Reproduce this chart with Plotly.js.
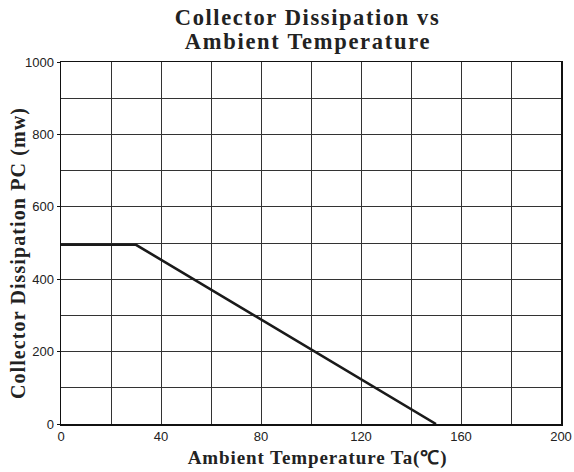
<!DOCTYPE html>
<html>
<head>
<meta charset="utf-8">
<script src="https://cdn.plot.ly/plotly-3.0.1.min.js"></script>
<style>html,body{margin:0;padding:0;background:#fff;}</style>
</head>
<body>
<div id="chart" style="width:574px;height:472px;"></div>
<script>
const temperature = [0, 30, 150];
const dissipation = [495, 495, 0];
const xTickVals = [0, 40, 80, 120, 160, 200];
const yTickVals = [0, 200, 400, 600, 800, 1000];
const titleLines = ['Collector Dissipation vs', 'Ambient Temperature'];
const xTitle = 'Ambient Temperature Ta(℃)';
const yTitle = 'Collector Dissipation PC (mw)';

const trace = {
  x: temperature,
  y: dissipation,
  mode: 'lines',
  line: {color: '#1a1a1a', width: 2.6},
  hoverinfo: 'skip',
  showlegend: false
};

const serif = {family: 'Liberation Serif', color: '#222', weight: 'bold'};
const spacing = [1.6, 1.7, 0.9, 1.1];

const layout = {
  width: 574, height: 472,
  margin: {l: 61, r: 13, t: 62, b: 48},
  paper_bgcolor: '#fff', plot_bgcolor: '#fff',
  annotations: [
    {text: titleLines[0], xref: 'paper', yref: 'paper', x: 0.492, y: 1.122, xanchor: 'center', yanchor: 'middle', showarrow: false, font: Object.assign({size: 22.5}, serif)},
    {text: titleLines[1], xref: 'paper', yref: 'paper', x: 0.494, y: 1.056, xanchor: 'center', yanchor: 'middle', showarrow: false, font: Object.assign({size: 22.5}, serif)},
    {text: xTitle, xref: 'paper', yref: 'paper', x: 0.512, y: -0.095, xanchor: 'center', yanchor: 'middle', showarrow: false, font: Object.assign({size: 19}, serif)},
    {text: yTitle, xref: 'paper', yref: 'paper', x: -0.086, y: 0.472, xanchor: 'center', yanchor: 'middle', textangle: -90, showarrow: false, font: Object.assign({size: 20}, serif)}
  ],
  xaxis: {
    range: [0, 200], tickvals: xTickVals, ticktext: xTickVals.map(String),
    showgrid: true, gridcolor: '#333', gridwidth: 1,
    minor: {dtick: 20, tick0: 0, showgrid: true, gridcolor: '#333', gridwidth: 1},
    showline: true, linecolor: '#111', linewidth: 1.5, mirror: true,
    ticks: '', zeroline: false,
    tickfont: {family: 'Liberation Sans', size: 13, color: '#222'}
  },
  yaxis: {
    range: [0, 1000], tickvals: yTickVals, ticktext: yTickVals.map(String),
    showgrid: true, gridcolor: '#333', gridwidth: 1,
    minor: {dtick: 100, tick0: 0, showgrid: true, gridcolor: '#333', gridwidth: 1},
    showline: true, linecolor: '#111', linewidth: 1.5, mirror: true,
    ticks: 'outside', ticklen: 3, tickcolor: '#111', zeroline: false,
    tickfont: {family: 'Liberation Sans', size: 13, color: '#222'}
  }
};

Plotly.newPlot('chart', [trace], layout, {staticPlot: true, displayModeBar: false}).then(function (gd) {
  const texts = gd.querySelectorAll('.annotation-text');
  texts.forEach(function (t, i) { t.style.letterSpacing = spacing[i] + 'px'; });
});
</script>
</body>
</html>
